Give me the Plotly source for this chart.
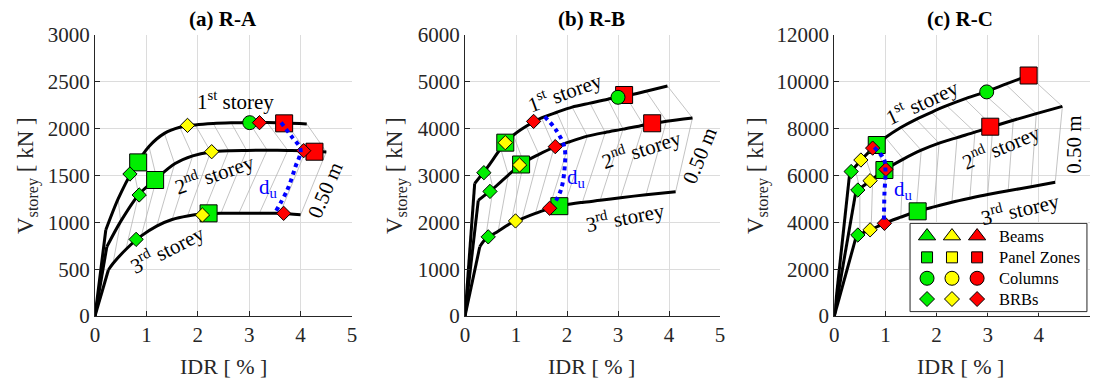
import plotly.graph_objects as go

W, H = 1093, 381
FONT = "'Liberation Serif', 'Times New Roman', serif"

# ---------------- data ----------------
IDR_TICKS = [0, 1, 2, 3, 4, 5]
A_YTICKS = [0, 500, 1000, 1500, 2000, 2500, 3000]
B_YTICKS = [0, 1000, 2000, 3000, 4000, 5000, 6000]
C_YTICKS = [0, 2000, 4000, 6000, 8000, 10000, 12000]

# storey curves: origin, elastic corner, then stations of equal roof displacement
A_S1_IDR = [0, 0.21, 0.45, 0.75, 1.05, 1.35, 1.65, 1.95, 2.30, 2.65, 3.00, 3.35, 3.72, 4.12]
A_S1_V = [0, 918, 1250, 1570, 1810, 1950, 2015, 2040, 2055, 2062, 2065, 2065, 2060, 2050]
A_S2_IDR = [0, 0.23, 0.50, 0.85, 1.20, 1.55, 1.90, 2.25, 2.60, 2.95, 3.35, 3.75, 4.10, 4.50]
A_S2_V = [0, 740, 1010, 1295, 1470, 1625, 1710, 1752, 1765, 1768, 1770, 1768, 1765, 1752]
A_S3_IDR = [0, 0.26, 0.35, 0.60, 0.90, 1.20, 1.50, 1.80, 2.10, 2.45, 2.80, 3.20, 3.60, 4.00]
A_S3_V = [0, 491, 560, 710, 855, 960, 1030, 1068, 1088, 1096, 1098, 1098, 1096, 1080]

B_S1_IDR = [0, 0.19, 0.45, 0.70, 0.95, 1.20, 1.50, 1.80, 2.10, 2.45, 2.80, 3.15, 3.55, 3.97]
B_S1_V = [0, 2830, 3190, 3570, 3860, 4050, 4230, 4350, 4460, 4545, 4630, 4700, 4800, 4910]
B_S2_IDR = [0, 0.26, 0.55, 0.85, 1.15, 1.45, 1.75, 2.05, 2.40, 2.75, 3.10, 3.50, 3.95, 4.46]
B_S2_V = [0, 2470, 2720, 3010, 3275, 3450, 3605, 3720, 3840, 3920, 3990, 4075, 4160, 4230]
B_S3_IDR = [0, 0.29, 0.40, 0.65, 0.90, 1.12, 1.38, 1.65, 1.95, 2.30, 2.65, 3.05, 3.55, 4.13]
B_S3_V = [0, 1480, 1640, 1810, 1980, 2080, 2190, 2295, 2370, 2425, 2470, 2525, 2590, 2655]

C_S1_IDR = [0, 0.30, 0.40, 0.60, 0.80, 1.00, 1.30, 1.60, 1.90, 2.20, 2.55, 2.90, 3.35, 3.80]
C_S1_V = [0, 6080, 6350, 6830, 7250, 7620, 8050, 8400, 8700, 8980, 9270, 9530, 9900, 10270]
C_S2_IDR = [0, 0.42, 0.50, 0.75, 1.00, 1.35, 1.70, 2.05, 2.40, 2.75, 3.10, 3.50, 3.95, 4.46]
C_S2_V = [0, 5300, 5440, 5850, 6260, 6700, 7080, 7380, 7620, 7850, 8100, 8360, 8640, 8950]
C_S3_IDR = [0, 0.43, 0.50, 0.72, 0.97, 1.30, 1.60, 1.95, 2.30, 2.65, 3.00, 3.40, 3.85, 4.32]
C_S3_V = [0, 3410, 3490, 3690, 3950, 4220, 4450, 4660, 4860, 5030, 5190, 5350, 5520, 5708]

# performance markers: element type and level (1 = green, 2 = yellow, 3 = red)
A_MK_IDR = [0.68, 0.84, 1.80, 3.01, 3.20, 3.68, 0.86, 1.17, 2.27, 4.06, 4.27, 0.80, 2.09, 2.21, 3.67]
A_MK_V = [1516, 1640, 2035, 2064, 2064, 2057, 1292, 1452, 1754, 1765, 1754, 818, 1078, 1096, 1096]
A_MK_ELEM = ["BRB", "PZ", "BRB", "COL", "BRB", "PZ", "BRB", "PZ", "BRB", "BRB", "PZ", "BRB", "BRB", "PZ", "BRB"]
A_MK_LVL = [1, 1, 2, 1, 3, 3, 1, 1, 2, 3, 3, 1, 2, 1, 3]

B_MK_IDR = [0.37, 0.79, 0.79, 1.345, 3.12, 3.00, 0.49, 1.10, 1.07, 1.77, 3.67, 0.455, 0.99, 1.66, 1.85]
B_MK_V = [3060, 3701, 3701, 4155, 4719, 4670, 2660, 3235, 3224, 3616, 4115, 1690, 2030, 2300, 2345]
B_MK_ELEM = ["BRB", "PZ", "BRB", "BRB", "PZ", "COL", "BRB", "PZ", "BRB", "BRB", "PZ", "BRB", "BRB", "BRB", "PZ"]
B_MK_LVL = [1, 1, 2, 3, 3, 1, 1, 1, 2, 3, 3, 1, 2, 3, 1]

C_MK_IDR = [0.33, 0.52, 0.83, 0.75, 2.98, 3.80, 0.46, 0.70, 0.98, 1.01, 3.05, 0.46, 0.70, 0.98, 1.63]
C_MK_V = [6170, 6661, 7302, 7170, 9570, 10270, 5380, 5778, 6234, 6260, 8084, 3459, 3680, 3958, 4470]
C_MK_ELEM = ["BRB", "BRB", "PZ", "BRB", "COL", "PZ", "BRB", "BRB", "PZ", "BRB", "PZ", "BRB", "BRB", "BRB", "PZ"]
C_MK_LVL = [1, 2, 1, 3, 1, 3, 1, 2, 1, 3, 3, 1, 2, 3, 1]

# ultimate displacement path d_u
A_DU_IDR = [3.62, 3.82, 4.00, 3.90, 3.74, 3.50]
A_DU_V = [2065, 1920, 1775, 1594, 1345, 1100]
B_DU_IDR = [1.56, 1.78, 1.95, 1.95, 1.88, 1.75]
B_DU_V = [4256, 3980, 3600, 3120, 2690, 2400]
C_DU_IDR = [0.78, 0.97, 1.00, 0.98, 0.97]
C_DU_V = [7200, 6700, 6250, 5200, 4100]

TITLES = ["(a) R-A", "(b) R-B", "(c) R-C"]
STOREY_TXT = ["1<sup>st</sup> storey", "2<sup>nd</sup> storey", "3<sup>rd</sup> storey"]
ROOF_TXT = "0.50 m"
DU_TXT = "d<sub>u</sub>"
LEG_ELEM = ["Beams", "Panel Zones", "Columns", "BRBs"]

# label positions (IDR, V) and angle per panel: 1st, 2nd, 3rd, 0.50 m, d_u
A_LBL_IDR = [2.73, 2.32, 1.41, 4.48, 3.37]
A_LBL_V = [2306, 1523, 722, 1345, 1366]
A_LBL_ANG = [0, -19, -27, -67, 0]
B_LBL_IDR = [1.96, 3.46, 3.14, 4.60, 2.18]
B_LBL_V = [4790, 3580, 2135, 3416, 2940]
B_LBL_ANG = [-20, -18, -11, -68, 0]
C_LBL_IDR = [1.71, 3.25, 3.63, 4.67, 1.35]
C_LBL_V = [9176, 7221, 4609, 7320, 5380]
C_LBL_ANG = [-25, -23, -13, -90, 0]

# ---------------- styles ----------------
LVL_COL = {1: "#00ee00", 2: "#ffff00", 3: "#ff0000"}
ELEM_SYM = {"BM": "triangle-up", "PZ": "square", "COL": "circle", "BRB": "diamond"}
ELEM_SIZE = {"BM": 14, "PZ": 17, "COL": 14, "BRB": 11}
DRAW_ORDER = [("PZ", 1), ("PZ", 2), ("PZ", 3), ("COL", 1), ("COL", 2), ("COL", 3),
              ("BRB", 1), ("BRB", 2), ("BRB", 3)]
AXC = "#262626"
GRID = "#dcdcdc"

px_x = lambda p: p / W
px_y = lambda p: 1 - p / H
DOMX = [[95, 352], [465, 720], [834.3, 1090]]
DOMY = [px_y(316), px_y(35)]

panels = [
    dict(curves=[(A_S1_IDR, A_S1_V), (A_S2_IDR, A_S2_V), (A_S3_IDR, A_S3_V)],
         mk=(A_MK_IDR, A_MK_V, A_MK_ELEM, A_MK_LVL), du=(A_DU_IDR, A_DU_V),
         yt=A_YTICKS, lbl=(A_LBL_IDR, A_LBL_V, A_LBL_ANG)),
    dict(curves=[(B_S1_IDR, B_S1_V), (B_S2_IDR, B_S2_V), (B_S3_IDR, B_S3_V)],
         mk=(B_MK_IDR, B_MK_V, B_MK_ELEM, B_MK_LVL), du=(B_DU_IDR, B_DU_V),
         yt=B_YTICKS, lbl=(B_LBL_IDR, B_LBL_V, B_LBL_ANG)),
    dict(curves=[(C_S1_IDR, C_S1_V), (C_S2_IDR, C_S2_V), (C_S3_IDR, C_S3_V)],
         mk=(C_MK_IDR, C_MK_V, C_MK_ELEM, C_MK_LVL), du=(C_DU_IDR, C_DU_V),
         yt=C_YTICKS, lbl=(C_LBL_IDR, C_LBL_V, C_LBL_ANG)),
]

fig = go.Figure()
annotations = []
layout = {}
title_cx = [223, 591.7, 960]
ytitle_x = [27, 396, 757]

for i, p in enumerate(panels):
    n = "" if i == 0 else str(i + 1)
    xa, ya = "x" + n, "y" + n
    # mesh lines of equal roof displacement
    mx, my = [], []
    npts = len(p["curves"][0][0])
    for k in range(2, npts):
        for (cx, cy) in p["curves"]:
            mx.append(cx[k]); my.append(cy[k])
        mx.append(None); my.append(None)
    fig.add_trace(go.Scatter(x=mx, y=my, mode="lines", xaxis=xa, yaxis=ya,
                             line=dict(color="#b4b4b4", width=0.8), hoverinfo="skip"))
    # storey curves
    for (cx, cy) in p["curves"]:
        fig.add_trace(go.Scatter(x=cx[:2], y=cy[:2], mode="lines", xaxis=xa, yaxis=ya,
                                 line=dict(color="black", width=3)))
        fig.add_trace(go.Scatter(x=cx[1:], y=cy[1:], mode="lines", xaxis=xa, yaxis=ya,
                                 line=dict(color="black", width=3, shape="spline", smoothing=0.8)))
    # markers
    mxs, mys, mel, mlv = p["mk"]
    for (el, lv) in DRAW_ORDER:
        sx = [mxs[j] for j in range(len(mxs)) if mel[j] == el and mlv[j] == lv]
        sy = [mys[j] for j in range(len(mxs)) if mel[j] == el and mlv[j] == lv]
        if sx:
            fig.add_trace(go.Scatter(x=sx, y=sy, mode="markers", xaxis=xa, yaxis=ya,
                                     marker=dict(symbol=ELEM_SYM[el], size=ELEM_SIZE[el],
                                                 color=LVL_COL[lv],
                                                 line=dict(color="black", width=1))))
    # d_u path
    fig.add_trace(go.Scatter(x=p["du"][0], y=p["du"][1], mode="lines", xaxis=xa, yaxis=ya,
                             line=dict(color="#0000ff", width=4, dash="dot", shape="spline")))
    # labels
    lx, ly, la = p["lbl"]
    texts = STOREY_TXT + [ROOF_TXT]
    for t, x, y, a in zip(texts, lx[:4], ly[:4], la[:4]):
        annotations.append(dict(x=x, y=y, xref=xa, yref=ya, text=t, textangle=a,
                                showarrow=False, font=dict(family=FONT, size=21, color="black"),
                                xanchor="center", yanchor="middle"))
    annotations.append(dict(x=lx[4], y=ly[4], xref=xa, yref=ya, text=DU_TXT, showarrow=False,
                            font=dict(family=FONT, size=21, color="#0000ff"),
                            xanchor="center", yanchor="middle"))
    # titles
    annotations.append(dict(x=px_x(title_cx[i]), y=px_y(19), xref="paper", yref="paper",
                            text="<b>" + TITLES[i] + "</b>", showarrow=False,
                            font=dict(family=FONT, size=21, color="black"),
                            xanchor="center", yanchor="middle"))
    annotations.append(dict(x=px_x(title_cx[i]), y=px_y(366), xref="paper", yref="paper",
                            text="IDR [ % ]", showarrow=False,
                            font=dict(family=FONT, size=22, color=AXC),
                            xanchor="center", yanchor="middle"))
    annotations.append(dict(x=px_x(ytitle_x[i]), y=px_y(176), xref="paper", yref="paper",
                            text="V<sub>storey</sub> [ kN ]", textangle=-90, showarrow=False,
                            font=dict(family=FONT, size=23, color=AXC),
                            xanchor="center", yanchor="middle"))
    common = dict(showline=True, linecolor=AXC, linewidth=1, ticks="inside", ticklen=5,
                  tickcolor=AXC, showgrid=True, gridcolor=GRID, gridwidth=1, zeroline=False,
                  tickfont=dict(family=FONT, size=21, color=AXC), mirror=False,
                  automargin=False)
    layout["xaxis" + n] = dict(domain=[px_x(DOMX[i][0]), px_x(DOMX[i][1])], range=[0, 5],
                               tickvals=IDR_TICKS, ticktext=[str(v) for v in IDR_TICKS],
                               anchor=ya, **common)
    layout["yaxis" + n] = dict(domain=DOMY, range=[0, p["yt"][-1]], tickvals=p["yt"],
                               ticktext=[str(v) for v in p["yt"]], anchor=xa, **common)

# legend (drawn manually on an overlay axis)
LX0, LX1, LYT, LYB = 910, 1087, 223.3, 311.7
layout["xaxis4"] = dict(domain=[px_x(LX0 - 1), px_x(LX1 + 1)], range=[-0.006, 1.006],
                        visible=False, anchor="y4", automargin=False)
layout["yaxis4"] = dict(domain=[px_y(LYB + 1), px_y(LYT - 1)], range=[-0.012, 1.012],
                        visible=False, anchor="x4", automargin=False)
fig.add_trace(go.Scatter(x=[0, 1, 1, 0, 0], y=[0, 0, 1, 1, 0], mode="lines", fill="toself",
                         fillcolor="white", line=dict(color=AXC, width=1),
                         xaxis="x4", yaxis="y4", hoverinfo="skip"))
leg_rows = [0.856, 0.615, 0.378, 0.143]
leg_cols = [0.096, 0.237, 0.379]
leg_syms = ["BM", "PZ", "COL", "BRB"]
leg_sizes = {"BM": 15, "PZ": 11, "COL": 14, "BRB": 11.5}
for r, el in enumerate(leg_syms):
    for c, lv in enumerate([1, 2, 3]):
        fig.add_trace(go.Scatter(x=[leg_cols[c]], y=[leg_rows[r]], mode="markers",
                                 xaxis="x4", yaxis="y4",
                                 marker=dict(symbol=ELEM_SYM[el], size=leg_sizes[el],
                                             color=LVL_COL[lv], line=dict(color="black", width=1))))
    annotations.append(dict(x=0.49, y=leg_rows[r], xref="x4", yref="y4", text=LEG_ELEM[r],
                            showarrow=False, xanchor="left", yanchor="middle",
                            font=dict(family=FONT, size=16.5, color="black")))

fig.update_layout(width=W, height=H, margin=dict(l=0, r=0, t=0, b=0, autoexpand=False),
                  autosize=False, paper_bgcolor="white", plot_bgcolor="white",
                  showlegend=False, annotations=annotations, **layout)
fig.write_html("out.html")
